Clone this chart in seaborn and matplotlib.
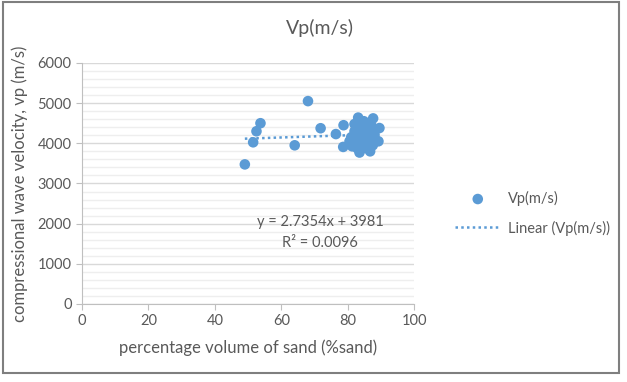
import numpy as np
import pandas as pd
import seaborn as sns
import matplotlib.pyplot as plt
from matplotlib.patches import Rectangle
from matplotlib.ticker import MultipleLocator

sns.set_style("white")
plt.rcParams['font.family'] = ['Lato', 'DejaVu Sans']

# %sand vs Vp readings
sand = [49, 51.5, 52.5, 53.7, 64, 68, 71.8, 76.4, 78.7, 78.6,
        80.5, 81.3, 82, 82.5, 83.1, 83, 83.5, 84, 84, 84.5,
        85, 85, 85.5, 85.5, 86, 86, 86.7, 87, 87, 87.6,
        88, 88.2, 89.5, 89.2, 82, 84.8, 81, 83.5, 86.5, 88,
        84.5, 86, 82.8, 87.5]
vp = [3475, 4025, 4300, 4500, 3950, 5050, 4375, 4230, 4450, 3910,
      4050, 3925, 4300, 4150, 4640, 4000, 3770, 4450, 4200, 3950,
      4350, 4100, 4500, 3880, 4250, 4000, 3800, 4450, 4150, 4620,
      4300, 4080, 4380, 4050, 4480, 4550, 4150, 4300, 4350, 4200,
      4050, 4150, 3880, 3950]

slope, intercept = 2.7354, 3981
r2 = 0.0096
trend_x = [min(sand), max(sand)]
trend_y = [slope * v + intercept for v in trend_x]

df = pd.DataFrame({'sand': sand, 'vp': vp})
blue = '#5B9BD5'
grey = '#595959'

fig = plt.figure(figsize=(6.27, 3.82), dpi=100)
ax = fig.add_axes([0.1308, 0.2042, 0.530, 0.631])

sns.lineplot(x=trend_x, y=trend_y, ax=ax, color=blue, lw=1.8,
             linestyle=(0, (1, 1.3)), label='Linear (Vp(m/s))', zorder=2)
sns.scatterplot(data=df, x='sand', y='vp', ax=ax, color=blue, s=58,
                edgecolor='none', label='Vp(m/s)', zorder=3)

ax.set_xlim(0, 100)
ax.set_ylim(0, 6000)
ax.xaxis.set_major_locator(MultipleLocator(20))
ax.yaxis.set_major_locator(MultipleLocator(1000))
ax.yaxis.set_minor_locator(MultipleLocator(200))
ax.grid(axis='y', which='major', color='#d9d9d9', lw=1)
ax.grid(axis='y', which='minor', color='#eeeeee', lw=1)
ax.set_axisbelow(True)
for s in ['top', 'right']:
    ax.spines[s].set_visible(False)
for s in ['left', 'bottom']:
    ax.spines[s].set_color('#bfbfbf')
ax.tick_params(which='major', direction='out', length=4, color='#bfbfbf',
               labelcolor=grey, labelsize=10.5, left=True, bottom=True)
ax.tick_params(which='minor', length=0)

ax.set_xlabel('percentage volume of sand (%sand)', fontsize=12, color=grey, labelpad=8)
ax.set_ylabel('compressional wave velocity, vp (m/s)', fontsize=12, color=grey, labelpad=7)

ax.text(71.7, 2030, f'y = {slope}x + {intercept}', ha='center', va='center',
        fontsize=10.5, color=grey)
ax.text(71.7, 1530, f'R² = {r2}', ha='center', va='center', fontsize=10.5, color=grey)

fig.text(0.51, 0.927, 'Vp(m/s)', ha='center', va='center', fontsize=14, color=grey)

handles, labels = ax.get_legend_handles_labels()
ax.get_legend().remove()
order = [labels.index('Vp(m/s)'), labels.index('Linear (Vp(m/s))')]
fig.legend([handles[i] for i in order], [labels[i] for i in order],
           loc='center left', bbox_to_anchor=(0.705, 0.442), frameon=False,
           fontsize=10.5, handlelength=3.1, handletextpad=0.5,
           labelspacing=1.0, labelcolor=grey)

fig.patches.append(Rectangle((3 / 627, 1 - 373 / 382), 616 / 627, 371 / 382,
                             transform=fig.transFigure, fill=False,
                             edgecolor='#7f7f7f', lw=1.5))

fig.savefig('out.png', dpi=100)
